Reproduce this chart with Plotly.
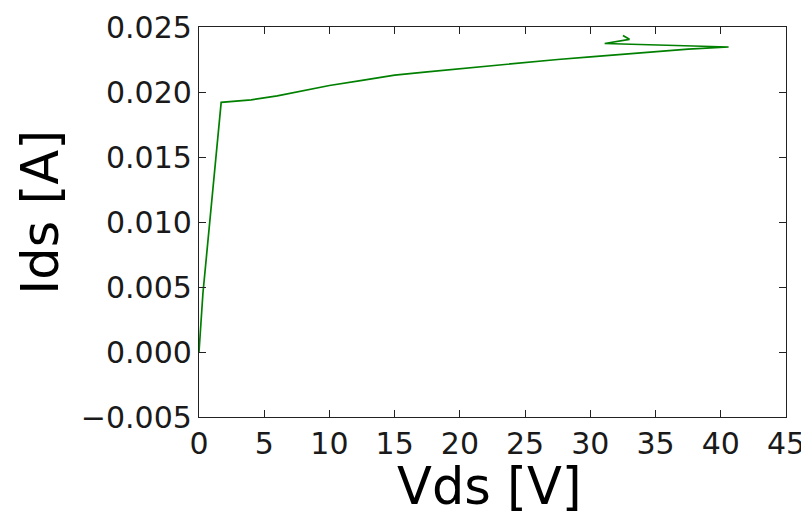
import plotly.graph_objects as go

vds = [0.0, 0.3, 1.7, 4.0, 6.0, 8.0, 10.0, 12.5, 15.0, 17.5, 20.0, 22.5, 25.0, 27.5, 30.0, 32.5, 35.0, 37.5, 40.6, 31.1, 33.0, 32.5]
ids = [0.0, 0.0045, 0.0192, 0.0194, 0.0197, 0.0201, 0.0205, 0.0209, 0.0213, 0.02155, 0.0218, 0.02205, 0.0223, 0.02250, 0.0227, 0.0229, 0.0231, 0.0233, 0.02346, 0.02373, 0.02405, 0.02435]

x_ticks = [0, 5, 10, 15, 20, 25, 30, 35, 40, 45]
y_ticks = [-0.005, 0.0, 0.005, 0.010, 0.015, 0.020, 0.025]
y_tick_text = ["\u22120.005", "0.000", "0.005", "0.010", "0.015", "0.020", "0.025"]

fig = go.Figure()
fig.add_trace(go.Scatter(x=vds, y=ids, mode="lines",
                         line=dict(color="#008000", width=1.7), showlegend=False))

axis_common = dict(showgrid=False, zeroline=False, showline=True, mirror="ticks",
                   linecolor="#222222", linewidth=1.2, ticks="inside", ticklen=7,
                   tickcolor="#222222", tickwidth=1,
                   tickfont=dict(family="DejaVu Sans", size=30, color="#1a1a1a"))

fig.update_xaxes(range=[0, 45], tickvals=x_ticks, ticktext=[str(t) for t in x_ticks], **axis_common)
fig.update_yaxes(range=[-0.005, 0.025], tickvals=y_ticks, ticktext=y_tick_text, **axis_common)

title_font = dict(family="DejaVu Sans", size=51, color="#000000")
fig.add_annotation(text="Vds [V]", xref="paper", yref="paper", x=0.4957, y=-0.178,
                   xanchor="center", yanchor="middle", showarrow=False, font=title_font)
fig.add_annotation(text="Ids [A]", xref="paper", yref="paper", x=-0.269, y=0.524,
                   xanchor="center", yanchor="middle", textangle=-90, showarrow=False, font=title_font)

fig.update_layout(width=801, height=507, plot_bgcolor="white", paper_bgcolor="white",
                  margin=dict(l=191, r=23, t=19, b=98, autoexpand=False))

fig.write_html("out.html")
